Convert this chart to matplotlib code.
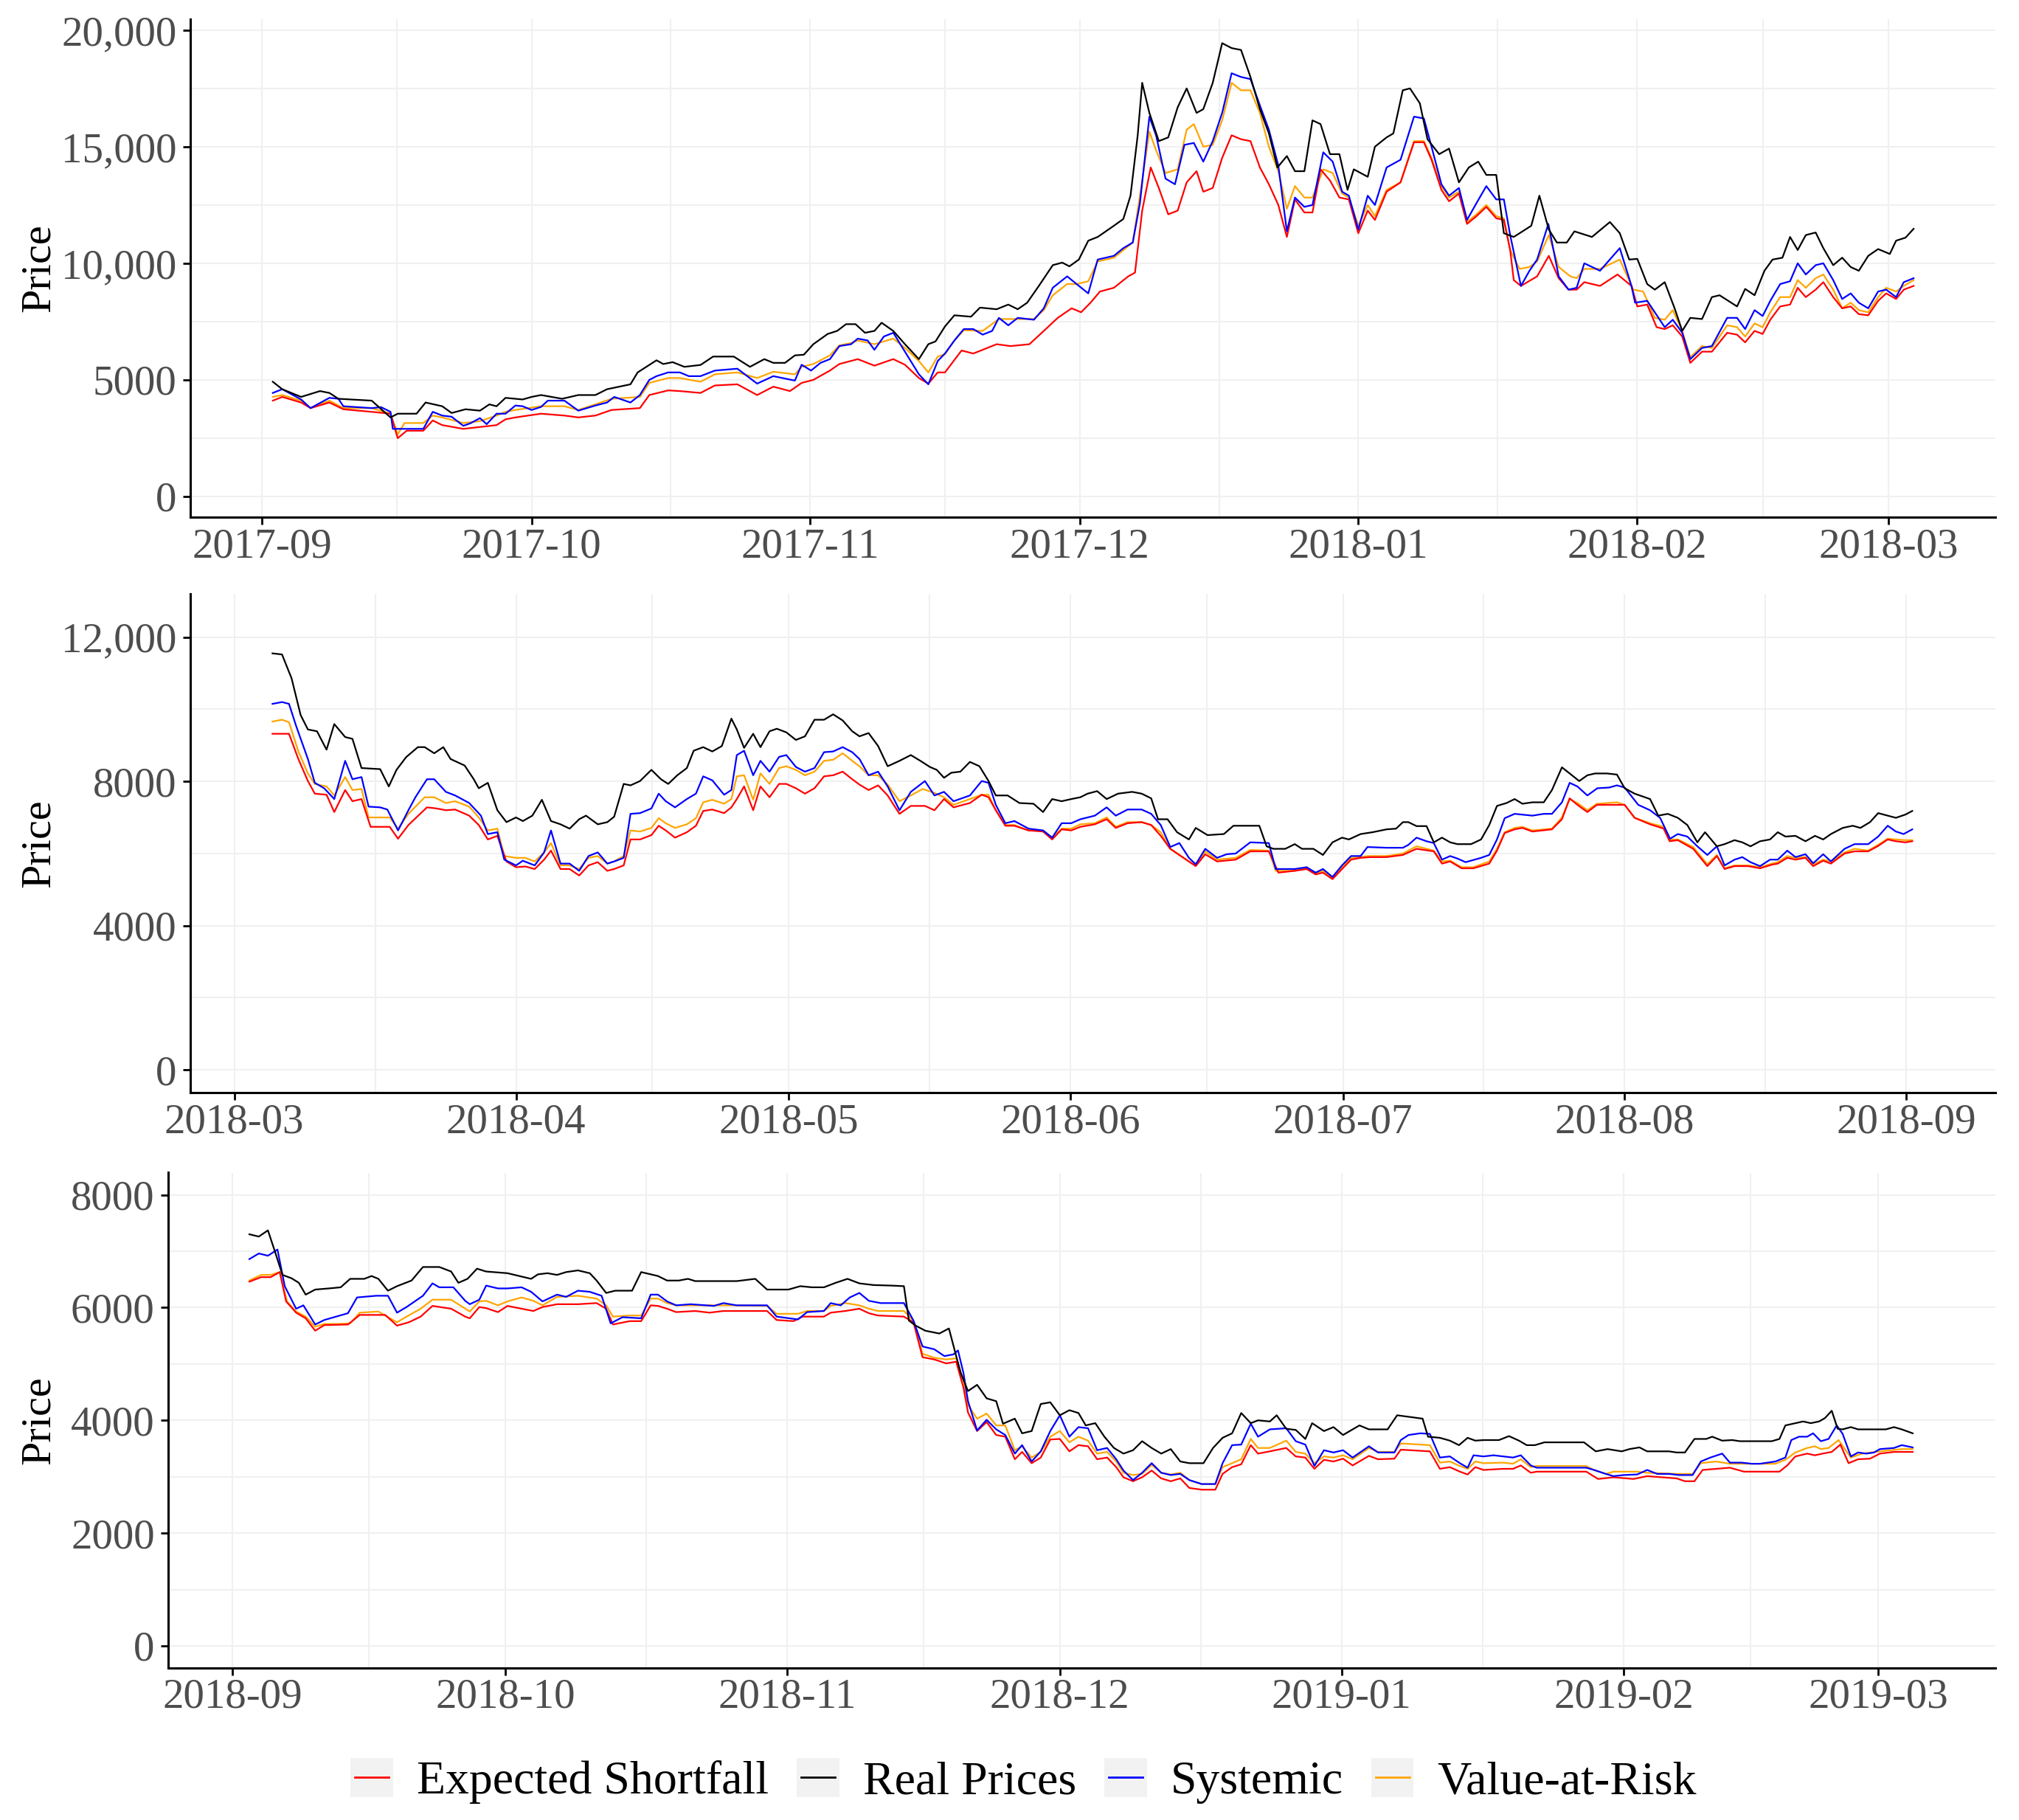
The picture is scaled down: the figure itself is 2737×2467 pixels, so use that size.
#!/usr/bin/env python3
"""Real prices vs. risk-model forecasts, three half-year panels."""

import numpy as np
import pandas as pd
import matplotlib
matplotlib.use("Agg")
import matplotlib.pyplot as plt
from matplotlib.lines import Line2D
from matplotlib.patches import Rectangle
from matplotlib.legend_handler import HandlerLine2D

plt.rcParams["font.family"] = ["Liberation Serif", "DejaVu Serif"]

SERIES = ["Expected Shortfall", "Real Prices", "Systemic", "Value-at-Risk"]
COLORS = ["red", "black", "blue", "orange"]
# stacking seen in the reference: orange under red, blue and black on top
ZORDER = [4, 6, 5, 3]

# each panel: day offset from its start month, price
PANEL_START = ["2017-09-01", "2018-03-01", "2018-09-01"]

# ---- panel 1 (2017-09 .. 2018-03) ----
es_1 = [(1.2,4110),(2.25,4270),(4.35,4030),(5.4,3790),(7.5,4030),(9.05,3740),(12.2,3630),(14.3,3550),(15.1,2500),(16.1,2820),(17.95,2820),(19.0,3260),(20.05,3060),(22.4,2900),(24.25,2980),(26.1,3060),(27.1,3310),(28.2,3390),(31.05,3550),(33.65,3470),(35.2,3390),(37.1,3470),(38.9,3710),(42.05,3790),(43.1,4350),(45.2,4550),(46.5,4520),(48.8,4440),(50.4,4760),(52.9,4810),
        (55.1,4350),(56.9,4710),(58.75,4520),(60.05,4870),(61.35,5000),(63.2,5400),(64.25,5680),(66.3,5890),(68.15,5610),(70.25,5890),(71.55,5650),(73.1,5080),(74.15,4840),(75.2,5320),(76.0,5320),(77.85,6260),(79.15,6130),(80.2,6290),(81.75,6530),(83.3,6450),(85.4,6530),(87.0,7100),(88.55,7660),(90.1,8070),(91.15,7900),(92.2,8310),(93.25,8790),(94.8,8950),(96.4,9440),(97.15,9600),(97.95,12260),(98.9,14110),(99.8,13230),(100.85,12100),(101.9,12260),(102.9,13470),(104.0,13950),(104.75,13070),(105.8,13230),(106.85,14520),(107.9,15490),(108.95,15320),(110.0,15240),(111.05,14110),(112.05,13390),(113.1,12500),(114.05,11130),(114.95,12740),(116.0,12180),(116.9,12180),(117.8,14030),(118.85,13550),(119.9,12820),(120.95,12740),(122.0,11290),(123.05,12260),(123.85,11860),(125.15,13070),(126.7,13470),
        (128.2,15190),(129.3,15190),(130.15,14440),(131.25,13150),(132.1,12660),(133.2,12990),(134.1,11690),(135.15,12020),(136.25,12420),(137.35,11930),(138.2,11860),(138.9,10570),(139.3,9280),(140.1,9030),(141.9,9440),(143.2,10320),(144.3,9360),(145.4,8870),(146.3,8870),(147.15,9190),(148.9,9030),(150.85,9520),(152.4,9030),(153.05,8150),(154.15,8230),(155.2,7260),(156.1,7180),(157.0,7340),(158.05,6860),(158.95,5730),(160.25,6210),(161.35,6210),(163.05,7020),(164.15,6940),(165.05,6610),(166.1,7100),(167.0,6970),(167.85,7580),(168.95,8150),(170.05,8230),(170.9,8950),(171.8,8550),(172.9,8870),(173.75,9190),(174.85,8550),(175.85,8070),(176.8,8150),(177.7,7820),(178.75,7770),(179.85,8390),(180.75,8710),(181.85,8470),(182.7,8870),(183.8,9030)]
real_1 = [(1.2,4920),(2.25,4600),(4.35,4270),(6.45,4520),(7.5,4440),(8.5,4190),(12.2,4110),(14.3,3390),(15.1,3550),(17.2,3550),(18.2,4030),(20.05,3870),(21.1,3580),(22.65,3740),(24.25,3680),(25.3,3950),(26.1,3870),(27.1,4230),(29.0,4160),(30.0,4270),(31.05,4350),(33.4,4190),(35.2,4350),(37.1,4350),(38.4,4600),(41.0,4810),(41.8,5320),(43.9,5840),(44.65,5680),(45.7,5760),(47.0,5560),(48.8,5640),(50.2,6000),(52.5,6000),
          (54.3,5560),(55.9,5890),(56.9,5730),(58.2,5730),(59.3,6050),(60.3,6080),(61.35,6530),(62.95,6970),(64.0,7100),(65.0,7390),(66.05,7390),(67.1,7020),(68.15,7100),(68.95,7450),(70.25,7100),(71.55,6530),(73.1,5890),(74.15,6530),(74.95,6650),(76.0,7290),(77.05,7770),(78.9,7710),(79.9,8100),(81.75,8030),(83.05,8230),(84.1,8030),(85.15,8310),(86.45,9030),(88.0,9920),(89.05,10030),(89.85,9870),(90.9,10160),(91.95,10970),(93.0,11130),(94.8,11610),(95.85,11900),(96.65,12900),(97.45,15490),(97.95,17740),(98.75,16450),(99.8,15240),(100.85,15400),(101.9,16690),(102.9,17500),(104.0,16450),(104.75,16610),(105.8,17740),(106.85,19440),(107.9,19230),(108.95,19150),(110.0,17990),(111.05,16610),(112.05,15570),(113.0,14110),(114.05,14600),(114.95,13950),(116.0,13950),(116.9,16130),(117.8,15970),(118.85,14680),(119.9,14680),(120.8,13150),(121.5,14030),(123.05,13710),(123.85,15000),(125.15,15400),(125.9,15570),(126.95,17420),
          (127.75,17500),(128.85,16860),(129.7,15320),(131.0,14680),(132.1,14920),(133.2,13470),(134.3,14110),(135.35,14360),(136.25,13790),(137.35,13790),(138.2,11290),(139.3,11130),(141.25,11610),(142.15,12900),(143.2,11450),(144.1,10890),(145.2,10890),(146.05,11370),(148.0,11130),(150.0,11770),(151.1,11290),(152.15,10160),(153.05,10190),(154.15,9110),(155.0,8870),(156.1,9190),(157.2,8070),(158.05,7100),(158.95,7660),(160.25,7610),(161.35,8550),(162.2,8630),(164.15,8150),(165.05,8900),(166.1,8630),(167.2,9680),(168.1,10160),(169.2,10240),(170.05,11130),(170.9,10570),(171.8,11210),(172.9,11320),(173.75,10650),(174.85,9920),(175.85,10240),(176.8,9840),(177.7,9680),(178.75,10320),(179.85,10610),(181.15,10400),(181.85,10970),(182.9,11100),(183.8,11480)]
sys_1 = [(1.2,4440),(2.25,4600),(4.35,4160),(5.4,3790),(7.5,4230),(8.5,4190),(9.05,3870),(12.2,3790),(13.25,3830),(14.3,3630),(14.55,2900),(17.95,2900),(19.0,3630),(20.05,3470),(21.1,3420),(22.4,3030),(23.2,3140),(24.25,3360),(25.0,3100),(26.1,3550),(27.1,3550),(28.2,3900),(29.0,3870),(30.0,3710),(31.05,3840),(31.8,4110),(33.65,4110),(35.2,3680),(37.1,3900),(38.4,4030),(39.2,4270),(41.0,4030),(42.05,4350),(43.1,5000),(43.9,5160),(45.2,5320),(46.5,5320),(47.5,5160),(48.8,5160),(50.4,5400),(52.9,5480),
         (55.1,4840),(56.9,5160),(59.3,4970),(60.05,5650),(61.1,5400),(62.15,5730),(63.2,5890),(64.25,6450),(65.55,6530),(66.3,6770),(67.4,6690),(68.15,6290),(69.2,6860),(70.25,7020),(71.55,6210),(73.1,5240),(74.15,4810),(75.2,5810),(76.0,6130),(77.05,6690),(78.1,7180),(79.15,7180),(80.2,6940),(81.25,7100),(82.0,7660),(83.05,7340),(84.1,7660),(85.9,7580),(87.0,8070),(88.0,8950),(89.6,9440),(90.65,9110),(91.95,8710),(93.0,10160),(94.8,10320),(95.85,10650),(96.9,10890),(97.7,12580),(98.75,16290),(99.5,15480),(100.55,13630),(101.6,13390),(102.65,15080),(103.7,15160),(104.75,14360),(105.8,15240),(106.85,16450),(107.9,18150),(108.95,17990),(110.0,17900),(111.05,16770),(112.05,15730),(113.1,14190),(114.05,11370),(114.95,12820),(116.0,12420),(116.9,12500),(118.1,14760),(119.15,14360),(120.2,13070),(120.95,12900),(122.0,11450),(123.05,12900),(123.85,12500),(125.15,14110),(126.7,14440),
         (128.2,16290),(129.3,16210),(130.15,15000),(131.25,13390),(132.1,12900),(133.2,13230),(134.1,11860),(135.15,12580),(136.25,13310),(137.35,12740),(138.2,12740),(138.9,11210),(140.1,9030),(141.05,9680),(141.9,10160),(143.15,11690),(144.3,9440),(145.4,8870),(146.3,8950),(147.15,10000),(148.9,9680),(151.1,10650),(152.4,9030),(152.8,8310),(154.15,8390),(155.0,7900),(156.1,7260),(157.0,7580),(158.05,7020),(158.95,5890),(160.25,6370),(161.35,6450),(163.05,7660),(164.15,7660),(165.05,7180),(166.1,7990),(167.0,7740),(167.85,8390),(168.95,9110),(170.05,9230),(170.9,10000),(171.8,9520),(172.9,9920),(173.75,10000),(174.85,9280),(175.85,8470),(176.8,8710),(177.7,8310),(178.75,8070),(179.85,8790),(180.75,8870),(181.85,8550),(182.7,9190),(183.8,9360)]
var_1 = [(1.2,4270),(2.25,4350),(4.35,4110),(5.4,3790),(7.5,4110),(9.05,3790),(12.2,3790),(14.3,3550),(15.1,2660),(15.85,3150),(17.95,3150),(19.0,3470),(20.05,3390),(22.4,3150),(24.25,3230),(26.1,3470),(27.1,3630),(28.2,3710),(31.05,3870),(33.65,3870),(35.2,3710),(37.1,3950),(38.9,4190),(42.05,4270),(43.1,4870),(45.2,5080),(46.5,5080),(48.8,4920),(50.4,5240),(52.9,5320),
         (55.1,5080),(56.9,5350),(59.3,5240),(60.05,5560),(61.35,5680),(63.2,6050),(64.25,6480),(65.55,6580),(66.3,6690),(68.15,6530),(70.25,6770),(71.55,6370),(73.1,5810),(74.15,5320),(75.2,6000),(76.0,6100),(77.05,6690),(78.1,7130),(80.2,7100),(82.0,7610),(84.1,7610),(85.9,7610),(87.0,7990),(88.0,8630),(89.6,9110),(90.65,9110),(91.95,9230),(93.0,10080),(94.8,10240),(96.9,10890),(97.7,12900),(98.75,15650),(99.5,14840),(100.55,13870),(101.9,14030),(102.9,15730),(103.7,15970),(104.75,15000),(105.8,15080),(106.85,16130),(107.9,17740),(108.95,17420),(110.0,17420),(111.05,16450),(112.05,15000),(113.1,13950),(114.05,12340),(114.95,13310),(116.0,12820),(116.9,12820),(118.1,14030),(119.15,13870),(120.2,12990),(120.95,12820),(122.0,11610),(123.05,12500),(123.85,12020),(125.15,13150),(126.7,13470),
         (128.2,15240),(129.3,15240),(130.15,14520),(131.25,13310),(132.1,12820),(133.2,13070),(134.1,11770),(135.15,12100),(136.25,12500),(137.35,12020),(138.2,11930),(138.9,10570),(139.95,9760),(141.05,9840),(141.9,10080),(143.2,11210),(144.3,9840),(145.6,9440),(146.3,9360),(147.15,9760),(148.9,9760),(151.1,10160),(152.6,8870),(153.7,8790),(155.0,7660),(156.1,7580),(157.0,7990),(158.05,7100),(158.95,5970),(160.25,6450),(161.35,6370),(163.05,7340),(164.15,7260),(165.05,6860),(166.1,7420),(167.0,7260),(167.85,7900),(168.95,8550),(170.05,8550),(170.9,9280),(171.8,8950),(172.9,9360),(173.75,9520),(174.85,8870),(175.85,8070),(176.8,8310),(177.7,7990),(178.75,7900),(179.85,8550),(180.75,8950),(181.85,8790),(182.7,9030),(183.8,9280)]

# ---- panel 2 (2018-03 .. 2018-09) ----
es_2 = [(4.2,9320),(6.02,9320),(7.05,8620),(8.1,8010),(8.86,7660),(10.15,7630),(11.0,7150),(12.2,7760),(13.0,7450),(14.0,7510),(15.0,6740),(17.1,6740),(18.02,6410),(19.16,6790),(21.2,7280),(22.25,7250),(23.28,7200),(24.3,7220),(25.85,7050),(26.9,6790),(27.9,6390),(28.95,6490),(29.95,5780),(31.0,5620),(32.03,5640),(33.06,5570),(34.09,5830),(34.85,6080),(35.9,5570),(36.9,5570),(37.95,5390),(38.98,5670),(40.0,5760),(41.05,5520),(41.8,5570),(42.85,5670),(43.6,6390),(44.65,6390),(45.9,6510),(46.7,6770),(47.48,6640),(48.5,6440),(49.8,6590),(50.8,6770),(51.6,7180),(52.6,7220),(53.9,7120),(54.7,7280),
        (55.3,7510),(56.1,7860),(57.1,7200),(57.9,7860),(58.9,7560),(59.95,7930),(60.75,7930),(61.8,7810),(62.8,7660),(63.85,7810),(64.9,8140),(65.9,8170),(66.95,8270),(68.0,8060),(68.8,7910),(69.8,7760),(70.85,7890),(71.9,7610),(73.2,7100),(74.45,7320),(76.0,7320),(77.05,7200),(78.1,7510),(79.15,7280),(80.95,7400),(82.25,7630),(83.0,7560),(83.8,7200),(84.85,6770),(85.85,6770),(87.4,6640),(89.0,6610),(90.0,6390),(91.05,6670),(92.1,6640),(93.1,6740),(94.7,6810),(96.0,6950),(97.0,6710),(98.3,6840),(99.85,6870),(100.9,6790),(101.95,6490),(103.0,6130),(105.05,5780),(105.8,5650),(106.85,5980),(108.15,5780),(110.2,5830),(111.8,6060),(113.85,6060),(114.9,5470),(116.7,5520),(118.0,5570),(119.0,5420),(119.8,5470),(120.85,5290),(121.9,5570),(122.9,5830),(123.95,5880),(125.0,5900),(126.8,5900),
        (128.6,5960),(130.1,6130),(132.0,6060),(132.9,5720),(133.8,5780),(135.06,5590),(136.35,5590),(138.1,5720),(138.95,6080),(139.8,6570),(140.9,6670),(141.75,6710),(142.85,6610),(145.0,6670),(146.1,6950),(146.95,7530),(147.8,7350),(148.9,7150),(149.95,7350),(152.15,7350),(153.0,7350),(154.1,6990),(155.8,6810),(157.3,6690),(157.95,6340),(158.85,6370),(160.55,6130),(162.1,5650),(163.15,5930),(164.0,5570),(165.1,5650),(166.6,5650),(167.9,5590),(169.2,5690),(169.85,5720),(170.9,5880),(171.8,5830),(172.9,5880),(173.75,5650),(174.85,5800),(175.7,5720),(177.2,6000),(178.3,6060),(179.8,6060),(180.9,6210),(181.95,6390),(182.85,6340),(183.9,6310),(184.65,6340)]
real_2 = [(4.2,11550),(5.25,11520),(6.3,10860),(7.3,9840),(8.1,9440),(9.1,9390),(10.15,8880),(11.0,9590),(12.2,9230),(13.0,9180),(14.0,8370),(16.05,8340),(17.0,7860),(17.85,8320),(18.9,8670),(20.2,8950),(20.95,8950),(22.0,8780),(23.0,8950),(23.8,8620),(25.35,8440),(26.35,8060),(26.9,7810),(27.9,7960),(28.95,7200),(29.95,6870),(31.0,7000),(31.75,6900),(32.8,7050),(33.85,7490),(34.85,6900),(35.9,6810),(36.9,6690),(37.95,6950),(38.7,7050),(40.0,6810),(41.05,6870),(41.8,7020),(42.85,7930),(43.6,7890),(44.65,8010),(45.9,8320),(46.95,8060),(47.75,7930),(48.75,8170),(49.8,8370),(50.55,8850),(51.6,8950),(52.6,8830),(53.65,8980),(54.7,9740),
          (55.3,9440),(56.1,8930),(57.1,9320),(57.9,8950),(58.9,9390),(59.7,9460),(60.75,9360),(61.8,9150),(62.8,9250),(63.85,9710),(64.9,9710),(65.9,9860),(66.95,9690),(68.0,9390),(68.8,9250),(69.8,9340),(70.85,8980),(71.9,8420),(73.2,8570),(74.45,8730),(75.5,8570),(76.55,8400),(77.3,8320),(78.1,8100),(78.9,8240),(79.9,8270),(80.95,8540),(82.0,8420),(83.0,8010),(83.8,7610),(85.1,7610),(86.4,7400),(87.95,7380),(89.0,7150),(90.0,7510),(91.05,7450),(92.1,7510),(93.1,7560),(93.9,7660),(94.95,7730),(96.0,7510),(97.25,7660),(98.8,7710),(99.85,7660),(100.9,7530),(101.65,6950),(102.7,6950),(103.75,6590),(105.05,6390),(105.8,6710),(107.1,6510),(108.9,6540),(109.95,6770),(111.5,6770),(112.8,6770),(113.6,6200),(114.35,6130),(115.65,6130),(116.7,6260),(117.5,6130),(118.75,6130),(119.8,5960),(120.85,6310),(121.9,6440),(122.65,6390),(123.95,6540),(125.25,6590),(126.8,6670),(127.85,6690),
          (128.6,6870),(129.2,6870),(130.1,6760),(131.2,6760),(132.0,6310),(132.9,6440),(133.8,6310),(134.6,6260),(136.1,6260),(137.2,6390),(138.1,6790),(138.95,7320),(140.0,7400),(140.9,7510),(141.75,7380),(142.85,7420),(144.1,7420),(145.0,7760),(146.1,8390),(146.95,8220),(148.0,8010),(148.9,8170),(149.75,8220),(151.05,8220),(152.15,8190),(153.0,7810),(154.1,7660),(155.8,7510),(156.7,7050),(157.75,7100),(158.85,6990),(159.9,6790),(161.0,6310),(161.85,6590),(163.15,6200),(164.0,6260),(165.1,6370),(165.95,6310),(166.85,6200),(167.9,6340),(169.0,6390),(169.85,6590),(170.7,6470),(171.8,6490),(172.9,6340),(173.95,6490),(174.85,6390),(175.7,6540),(177.0,6710),(178.1,6770),(178.95,6710),(180.0,6870),(180.9,7120),(181.95,7050),(182.85,6990),(183.9,7080),(184.65,7180)]
sys_2 = [(4.2,10150),(5.25,10200),(6.02,10150),(6.8,9540),(8.1,8620),(8.86,7960),(9.89,7810),(11.0,7510),(12.2,8570),(13.0,8060),(14.0,8120),(14.78,7300),(16.05,7280),(16.84,7220),(18.02,6640),(19.16,7200),(19.93,7560),(21.2,8060),(22.0,8060),(23.28,7710),(24.3,7610),(25.85,7400),(27.14,7050),(27.9,6540),(28.95,6590),(29.71,5830),(31.0,5670),(31.75,5800),(33.06,5670),(34.09,6030),(34.85,6640),(35.9,5720),(36.9,5720),(37.95,5520),(38.98,5930),(40.0,6030),(41.05,5720),(41.8,5780),(42.85,5880),(43.6,7100),(44.65,7120),(45.9,7250),(46.7,7660),(47.48,7450),(48.5,7280),(49.8,7510),(50.8,7660),(51.6,8140),(52.6,8030),(53.9,7630),(54.7,7760),
         (55.3,8730),(56.1,8850),(57.1,8170),(57.9,8570),(58.9,8270),(59.95,8680),(60.75,8730),(61.8,8400),(62.8,8270),(63.85,8370),(64.9,8810),(65.9,8830),(66.95,8950),(68.0,8810),(68.8,8620),(69.8,8170),(70.85,8270),(71.9,7860),(73.2,7200),(74.45,7710),(76.0,8010),(77.05,7610),(78.1,7710),(79.15,7450),(80.95,7610),(82.25,8010),(83.0,7960),(83.8,7350),(84.85,6840),(85.85,6900),(87.4,6690),(89.0,6640),(90.0,6440),(91.05,6840),(92.1,6840),(93.1,6950),(94.7,7050),(96.0,7280),(97.0,7050),(98.3,7220),(99.85,7220),(100.9,7100),(101.95,6790),(103.0,6180),(104.0,6290),(105.05,5880),(105.8,5700),(106.85,6130),(108.15,5880),(109.2,5980),(110.2,6000),(111.8,6310),(113.85,6290),(114.6,5570),(116.7,5570),(118.0,5620),(119.0,5470),(119.8,5570),(120.85,5350),(121.9,5670),(122.9,5930),(123.95,5930),(124.7,6180),(126.8,6160),
         (128.6,6160),(129.2,6240),(130.1,6440),(131.2,6340),(132.0,6290),(132.9,5830),(133.8,5930),(134.6,5860),(135.5,5760),(137.2,5880),(138.1,5960),(138.95,6390),(139.8,6980),(140.9,7100),(142.85,7050),(144.1,7100),(145.0,7100),(146.1,7420),(146.95,7960),(147.8,7860),(148.9,7610),(150.0,7810),(151.3,7830),(152.15,7890),(153.0,7830),(154.5,7350),(155.8,7200),(156.9,6990),(158.0,6410),(158.85,6540),(159.9,6470),(161.0,6200),(162.1,5960),(163.15,6200),(164.0,5670),(165.1,5830),(165.95,5900),(166.85,5760),(167.9,5650),(169.0,5830),(169.85,5830),(170.9,6080),(171.8,5900),(172.9,5980),(173.75,5730),(174.85,5980),(175.7,5780),(177.2,6130),(178.3,6260),(179.8,6260),(180.9,6470),(181.95,6770),(182.85,6610),(183.7,6540),(184.65,6670)]
var_2 = [(4.2,9660),(5.25,9710),(6.02,9640),(7.05,8830),(8.1,8220),(8.86,7930),(10.15,7860),(11.0,7610),(12.2,8120),(13.0,7760),(14.0,7790),(14.78,7000),(17.1,7000),(18.02,6690),(19.16,7100),(20.95,7560),(22.0,7560),(23.28,7400),(24.3,7450),(25.85,7300),(26.9,7000),(27.9,6640),(28.95,6690),(29.71,5930),(31.0,5880),(32.0,5880),(33.06,5780),(34.09,6030),(34.85,6290),(35.9,5670),(36.9,5670),(37.95,5570),(38.98,5880),(40.0,5930),(41.05,5720),(41.8,5780),(42.85,5930),(43.6,6640),(44.65,6610),(45.9,6710),(46.7,6980),(47.48,6840),(48.5,6710),(49.8,6810),(50.8,6980),(51.6,7420),(52.6,7490),(53.9,7380),(54.7,7510),
         (55.3,8140),(56.1,8170),(57.1,7490),(57.9,8220),(58.9,7930),(59.95,8370),(60.75,8420),(61.8,8320),(62.8,8170),(63.85,8270),(64.9,8570),(65.9,8600),(66.95,8780),(68.0,8570),(68.8,8420),(69.8,8170),(70.85,8170),(71.9,7910),(73.2,7450),(74.45,7610),(75.75,7790),(77.05,7680),(78.1,7560),(79.15,7350),(80.95,7510),(82.25,7630),(83.0,7630),(83.8,7200),(84.85,6790),(85.85,6790),(87.4,6640),(89.0,6640),(90.0,6440),(91.05,6690),(92.1,6690),(93.1,6810),(94.7,6840),(96.0,7000),(97.0,6740),(98.3,6870),(99.85,6870),(100.9,6790),(101.95,6590),(103.0,6130),(105.05,5780),(105.8,5670),(106.85,6060),(108.15,5830),(110.2,5880),(111.8,6100),(113.85,6080),(114.6,5520),(116.7,5520),(118.0,5620),(119.0,5450),(119.8,5520),(120.85,5320),(121.9,5620),(122.9,5880),(123.95,5900),(124.7,5930),(126.8,5930),
         (128.6,6000),(130.1,6200),(132.0,6080),(132.9,5780),(133.8,5800),(135.06,5620),(136.35,5620),(138.1,5780),(138.95,6130),(139.8,6590),(140.9,6710),(141.75,6740),(142.85,6640),(145.0,6690),(146.1,7000),(146.95,7510),(147.8,7400),(148.9,7200),(149.95,7380),(152.15,7420),(153.0,7350),(154.1,6990),(155.8,6840),(157.3,6740),(157.95,6390),(158.85,6390),(160.55,6180),(162.1,5700),(163.15,5960),(164.0,5590),(165.1,5670),(166.6,5670),(167.9,5620),(169.2,5720),(169.85,5760),(170.9,5930),(171.8,5880),(172.9,5900),(173.75,5700),(174.85,5830),(175.7,5780),(177.2,6030),(178.3,6130),(179.8,6080),(180.9,6240),(181.95,6410),(182.85,6390),(183.9,6370),(184.65,6370)]

# ---- panel 3 (2018-09 .. 2019-03) ----
es_3 = [(1.86,6460),(3.15,6540),(4.2,6540),(5.2,6630),(5.9,6110),(7.0,5910),(8.05,5810),(9.1,5590),(10.1,5690),(12.7,5700),(14.0,5870),(16.8,5870),(18.1,5680),(19.4,5740),(20.7,5840),(22.0,6030),(24.05,5980),(25.6,5840),(26.1,5810),(27.15,6010),(27.9,5990),(29.2,5920),(30.25,6030),(31.8,5980),(33.1,5940),(34.1,6010),(35.7,6060),(38.0,6060),(40.05,6080),(41.1,5980),(41.85,5700),(43.7,5760),(44.95,5760),(46.0,6040),(46.8,6030),(47.8,5980),(48.8,5920),(50.9,5940),(52.45,5910),(54.0,5940),(55.45,5940),
        (58.8,5940),(59.85,5780),(61.7,5760),(62.7,5840),(65.05,5840),(65.8,5910),(67.4,5940),(68.95,5980),(70.0,5900),(71.0,5860),(73.85,5840),(74.9,5740),(75.9,5120),(77.2,5080),(78.5,5010),(79.6,5040),(80.4,4580),(80.9,4140),(81.9,3810),(82.95,3970),(84.0,3740),(85.0,3710),(86.05,3310),(86.85,3440),(87.9,3240),(88.9,3340),(89.95,3660),(91.0,3670),(92.05,3450),(93.05,3560),(94.1,3540),(95.1,3310),(96.2,3340),(97.2,3170),(98.0,2990),(99.05,2920),(100.05,2990),(101.1,3110),(102.15,2970),(103.2,2920),(104.25,2970),(105.25,2800),(106.6,2770),(108.1,2770),(108.9,3050),(109.95,3170),(110.95,3220),(112.0,3560),(112.8,3410),(114.1,3450),(115.9,3510),(116.95,3360),(118.0,3340),(119.0,3140),(120.05,3300),(121.1,3270),(122.15,3320),(123.2,3200),(125.0,3370),(126.0,3310),(127.8,3320),
        (128.5,3480),(131.7,3450),(132.8,3140),(133.9,3170),(135.0,3090),(135.85,3040),(136.7,3170),(137.6,3120),(139.75,3140),(140.85,3140),(141.7,3200),(142.8,3070),(143.45,3090),(148.9,3090),(150.2,2960),(151.9,2990),(154.1,2960),(155.6,3010),(158.85,2970),(159.75,2920),(160.8,2920),(161.7,3120),(163.2,3140),(164.7,3160),(166.25,3090),(170.15,3090),(171.0,3200),(171.9,3360),(173.2,3410),(174.05,3380),(174.9,3410),(175.9,3440),(176.85,3570),(177.75,3240),(178.8,3310),(180.1,3320),(181.2,3410),(182.75,3440),(184.8,3440)]
real_3 = [(1.86,7300),(2.9,7260),(3.9,7370),(4.7,6980),(5.5,6580),(6.5,6520),(7.3,6440),(8.05,6230),(9.1,6320),(10.6,6340),(11.9,6360),(12.95,6510),(14.5,6510),(15.3,6560),(16.05,6510),(17.1,6300),(18.1,6380),(19.7,6480),(20.95,6720),(22.75,6720),(24.05,6640),(24.85,6440),(25.85,6510),(26.9,6690),(27.9,6640),(30.25,6610),(31.55,6560),(32.85,6510),(33.6,6590),(34.65,6610),(35.7,6580),(36.7,6630),(38.0,6660),(39.3,6610),(40.05,6480),(41.1,6260),(42.1,6300),(43.95,6300),(44.95,6630),(46.8,6560),(47.8,6480),(49.1,6480),(50.1,6510),(50.9,6470),(55.45,6470),
          (57.5,6510),(58.8,6320),(61.15,6320),(62.45,6380),(63.75,6360),(65.05,6360),(66.35,6440),(67.65,6510),(68.95,6430),(70.5,6400),(72.55,6390),(73.85,6380),(74.4,5770),(75.15,5680),(76.2,5590),(77.75,5540),(78.8,5630),(79.6,5140),(80.1,4840),(80.9,4520),(81.9,4630),(82.95,4390),(84.0,4340),(84.75,3940),(86.05,4030),(86.85,3770),(87.9,3810),(88.9,4290),(89.95,4320),(91.0,4090),(92.05,4180),(93.05,4130),(93.85,3910),(94.9,3950),(95.9,3710),(96.95,3510),(98.0,3410),(99.05,3470),(100.05,3630),(101.1,3510),(102.15,3410),(103.2,3490),(104.25,3270),(105.25,3240),(106.8,3240),(107.85,3510),(108.9,3690),(109.95,3770),(110.95,4130),(112.0,3950),(112.8,4000),(114.1,3980),(114.85,4090),(115.9,3850),(116.95,3830),(118.0,3670),(118.75,3950),(120.05,3810),(121.1,3880),(122.15,3740),(123.95,3910),(125.0,3840),(127.05,3840),(128.1,4090),
          (130.9,4030),(131.5,3710),(132.8,3690),(133.9,3640),(134.9,3560),(135.85,3690),(136.7,3640),(137.6,3650),(139.3,3650),(140.4,3720),(141.5,3640),(142.35,3560),(143.25,3560),(144.3,3610),(148.65,3610),(149.95,3450),(151.25,3490),(152.8,3450),(153.65,3490),(154.75,3520),(155.6,3450),(158.0,3450),(158.85,3430),(159.75,3430),(160.8,3670),(162.1,3670),(162.75,3710),(163.85,3640),(164.95,3650),(165.8,3630),(169.3,3630),(170.15,3670),(170.8,3910),(171.9,3950),(172.75,3980),(173.6,3950),(174.5,3980),(175.15,4040),(175.9,4170),(176.55,3850),(177.1,3840),(178.0,3880),(178.8,3840),(181.85,3840),(182.75,3880),(183.6,3840),(184.8,3770)]
sys_3 = [(1.86,6860),(2.9,6960),(3.9,6920),(4.95,7030),(5.75,6380),(7.0,5980),(7.8,6040),(9.1,5700),(10.1,5780),(11.4,5840),(12.7,5900),(13.7,6180),(15.8,6210),(17.1,6210),(18.1,5910),(19.15,6010),(20.95,6210),(22.0,6430),(22.75,6360),(24.3,6360),(25.6,6120),(26.1,6060),(27.15,6140),(27.9,6390),(29.2,6340),(30.25,6340),(31.8,6360),(32.85,6280),(34.1,6110),(35.7,6230),(36.7,6190),(38.0,6300),(39.3,6280),(40.6,6210),(41.6,5720),(42.9,5830),(44.95,5810),(46.0,6230),(46.8,6230),(47.8,6110),(48.8,6040),(50.4,6060),(52.95,6030),(54.0,6080),(55.45,6040),
         (58.8,6040),(59.85,5840),(62.2,5790),(63.2,5920),(65.05,5940),(65.8,6080),(66.9,6040),(67.9,6180),(68.95,6260),(70.0,6120),(71.3,6080),(73.85,6080),(74.9,5770),(75.9,5310),(77.2,5260),(78.3,5140),(79.3,5170),(79.8,5240),(80.4,4840),(80.9,4340),(81.9,3820),(82.95,4010),(84.0,3840),(85.0,3740),(86.05,3410),(86.85,3560),(87.9,3270),(88.9,3450),(89.95,3810),(91.0,4090),(92.05,3710),(93.05,3880),(94.1,3860),(95.1,3470),(96.2,3510),(97.2,3310),(98.0,3110),(99.05,2940),(100.05,3070),(101.1,3240),(102.15,3070),(103.2,3030),(104.25,3050),(105.25,2940),(106.6,2870),(108.1,2870),(108.9,3240),(109.95,3560),(110.95,3570),(112.0,3940),(112.8,3710),(114.1,3840),(115.9,3860),(116.95,3630),(118.0,3570),(119.0,3190),(120.05,3470),(121.1,3430),(122.15,3470),(123.2,3340),(125.0,3540),(126.0,3430),(127.8,3430),
         (128.5,3650),(129.35,3740),(130.65,3770),(131.7,3760),(132.8,3340),(133.9,3360),(135.0,3240),(135.85,3160),(136.5,3380),(137.6,3360),(138.7,3380),(139.75,3360),(140.85,3340),(141.7,3380),(142.8,3200),(143.45,3160),(148.9,3160),(149.75,3120),(151.05,3050),(151.9,3010),(153.0,3030),(154.5,3040),(155.6,3120),(156.7,3050),(158.0,3050),(159.1,3030),(160.6,3030),(161.5,3270),(162.55,3340),(163.85,3410),(164.7,3250),(166.0,3250),(167.1,3230),(168.0,3230),(169.7,3270),(170.8,3340),(171.45,3650),(172.3,3710),(173.2,3710),(173.85,3770),(174.7,3630),(175.55,3670),(176.45,3910),(177.1,3760),(178.0,3360),(178.8,3430),(179.7,3410),(180.55,3430),(181.2,3490),(182.75,3510),(183.6,3560),(184.8,3520)]
var_3 = [(1.86,6480),(3.15,6580),(4.2,6580),(5.2,6630),(6.0,6110),(7.0,5930),(8.05,5840),(9.1,5660),(10.1,5710),(11.65,5710),(12.95,5720),(14.0,5910),(16.05,5930),(17.1,5830),(18.1,5740),(19.15,5840),(20.7,5980),(22.0,6140),(24.05,6140),(25.6,5980),(26.1,5930),(27.15,6110),(27.9,6120),(29.2,6040),(30.25,6110),(31.8,6180),(33.1,6120),(34.1,6040),(35.7,6190),(38.0,6210),(40.05,6160),(41.1,6040),(41.85,5840),(43.7,5860),(44.95,5860),(46.0,6160),(46.8,6160),(47.8,6080),(48.8,6040),(55.45,6040),
         (58.8,6030),(59.85,5890),(62.2,5890),(63.2,5940),(65.05,5940),(65.8,6030),(67.4,6080),(68.95,6040),(70.0,5980),(71.0,5940),(73.85,5940),(74.9,5770),(75.9,5180),(77.2,5110),(78.5,5080),(79.6,5100),(80.4,4710),(80.9,4270),(81.9,4030),(82.95,4120),(84.0,3910),(85.0,3910),(86.05,3470),(86.85,3540),(87.9,3340),(88.9,3440),(89.95,3710),(91.0,3810),(92.05,3610),(93.05,3710),(94.1,3640),(95.1,3410),(96.2,3440),(97.2,3270),(98.0,3070),(99.05,3030),(100.05,3050),(101.1,3210),(102.15,3070),(103.2,3040),(104.25,3070),(105.25,2940),(106.6,2870),(108.1,2870),(108.9,3170),(109.95,3240),(110.95,3310),(112.0,3670),(112.8,3510),(114.1,3510),(115.9,3640),(116.95,3440),(118.0,3410),(119.0,3240),(120.05,3360),(121.1,3340),(122.15,3380),(123.2,3310),(125.0,3510),(126.0,3440),(127.8,3440),
         (128.5,3590),(131.7,3560),(132.8,3250),(133.9,3270),(135.0,3190),(135.85,3140),(136.7,3270),(137.6,3240),(139.75,3250),(140.85,3230),(141.7,3310),(142.8,3170),(143.45,3190),(148.9,3190),(149.75,3120),(151.05,3050),(151.9,3090),(154.5,3090),(155.6,3070),(158.85,3050),(160.6,3050),(161.5,3240),(163.2,3270),(164.7,3230),(169.7,3230),(170.8,3300),(171.9,3430),(173.2,3510),(174.05,3540),(174.7,3490),(175.55,3510),(176.65,3650),(178.0,3340),(179.25,3410),(181.2,3450),(183.6,3490),(184.8,3490)]

PANEL_DATA = [[es_1, real_1, sys_1, var_1],
              [es_2, real_2, sys_2, var_2],
              [es_3, real_3, sys_3, var_3]]

Y_TICKS = [[0, 5000, 10000, 15000, 20000], [0, 4000, 8000, 12000], [0, 2000, 4000, 6000, 8000]]
Y_LABELS = [["0", "5000", "10,000", "15,000", "20,000"],
            ["0", "4000", "8000", "12,000"],
            ["0", "2000", "4000", "6000", "8000"]]

W, H = 2737, 2467
RECTS = [(258 / W, 1 - 701 / H, 2447 / W, 675.5 / H),
         (258 / W, 1 - 1481 / H, 2447 / W, 676 / H),
         (228 / W, 1 - 2260.5 / H, 2477 / W, 671 / H)]
X_PAD = [(-7.98, 192.9), (-4.84, 193.8), (-7.07, 193.9)]
Y_LIM = [(-887, 20485), (-630, 13200), (-387, 8394)]

GRID = "#F0F0F0"
TICK_TXT = "#4D4D4D"


class KeyBox(HandlerLine2D):
    """ggplot-style legend key: grey square with a short line."""

    def create_artists(self, legend, orig_handle, xdescent, ydescent,
                       width, height, fontsize, trans):
        box = Rectangle((-xdescent, -ydescent), width, height,
                        facecolor="#F2F2F2", edgecolor="none", transform=trans)
        y = -ydescent + height / 2
        ln = Line2D([-xdescent + 0.1 * width, -xdescent + 0.9 * width], [y, y],
                    color=orig_handle.get_color(),
                    lw=orig_handle.get_linewidth(), transform=trans)
        return [box, ln]


def draw_panel(fig, i):
    ax = fig.add_axes(RECTS[i])
    start = pd.Timestamp(PANEL_START[i])
    for pairs, c, z in zip(PANEL_DATA[i], COLORS, ZORDER):
        arr = np.array(pairs, dtype=float)
        dates = start + pd.to_timedelta(arr[:, 0], unit="D")
        ax.plot(dates, arr[:, 1], color=c, lw=0.8, zorder=z)

    months = pd.date_range(start, periods=7, freq="MS")
    ax.set_xticks(months)
    ax.set_xticklabels([m.strftime("%Y-%m") for m in months])
    mids = months[:-1] + (months[1:] - months[:-1]) / 2
    ax.set_xticks(mids, minor=True)

    yt = Y_TICKS[i]
    ax.set_yticks(yt)
    ax.set_yticklabels(Y_LABELS[i])
    step = yt[1] - yt[0]
    ax.set_yticks([v + step / 2 for v in yt[:-1]], minor=True)

    # limits last: set_ticks would otherwise widen the view
    ax.set_xlim(start + pd.Timedelta(days=X_PAD[i][0]),
                start + pd.Timedelta(days=X_PAD[i][1]))
    ax.set_ylim(*Y_LIM[i])

    ax.grid(which="both", color=GRID, lw=0.75, zorder=0)
    ax.set_axisbelow(True)

    for s in ("top", "right"):
        ax.spines[s].set_visible(False)
    for s in ("left", "bottom"):
        ax.spines[s].set_linewidth(1.1)
        ax.spines[s].set_color("black")

    ax.tick_params(which="major", length=3.6, width=1.0, color="black",
                   labelsize=20.5, labelcolor=TICK_TXT)
    ax.tick_params(axis="x", which="major", pad=1.5)
    ax.tick_params(axis="y", which="major", pad=3)
    ax.tick_params(which="minor", length=0)

    x0, y0, w, h = RECTS[i]
    fig.text(52.5 / W, y0 + h / 2, "Price", rotation=90, ha="center",
             va="center", fontsize=21, color="black")
    return ax


def main():
    fig = plt.figure(figsize=(W / 200, H / 200), dpi=200)
    for i in range(3):
        draw_panel(fig, i)

    handles = [Line2D([], [], color=c, lw=1.0) for c in COLORS]
    fig.legend(handles, SERIES, loc="center", bbox_to_anchor=(0.507, 0.0215),
               ncol=4, frameon=False, fontsize=23,
               handler_map={Line2D: KeyBox()},
               handlelength=0.9, handleheight=0.9, handletextpad=0.5,
               columnspacing=0.6)
    fig.savefig("out.png", dpi=200)


if __name__ == "__main__":
    main()
